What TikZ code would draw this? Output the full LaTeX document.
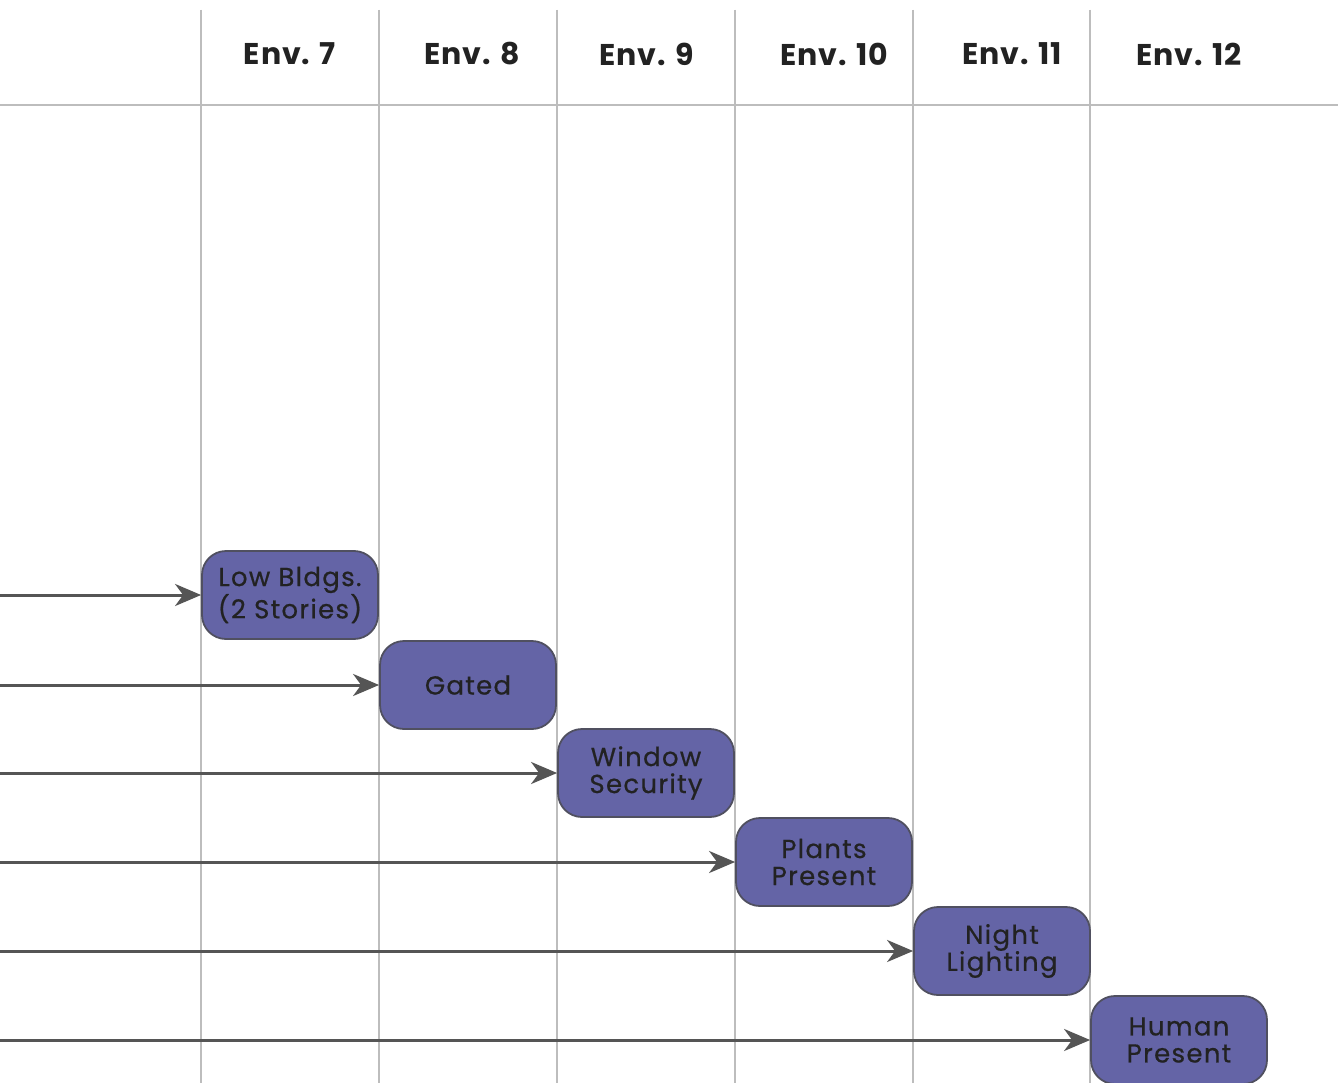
\documentclass[tikz,border=0pt]{standalone}
\usepackage{fontspec}
\setmainfont{Poppins}
\newfontfamily\boxfont{Poppins}[LetterSpace=5,FakeBold=0.6]
\newfontfamily\headfont{Poppins}[LetterSpace=3]
\usetikzlibrary{arrows.meta}
\definecolor{gridc}{HTML}{BDBDBD}
\definecolor{boxfill}{HTML}{6464A6}
\definecolor{boxline}{HTML}{505060}
\definecolor{arrc}{HTML}{555555}
\definecolor{txtc}{HTML}{222222}
\begin{document}
\begin{tikzpicture}[x=1pt,y=-1pt,
  gridline/.style={draw=gridc,line width=2.6pt},
  header/.style={font=\headfont\fontsize{30}{31}\selectfont\bfseries,text=txtc,anchor=center},
  envbox/.style={draw=boxline,line width=1.8pt,fill=boxfill,rounded corners=24pt,
     minimum width=176pt,minimum height=88pt,align=center,text=txtc,inner sep=0pt,
     font=\boxfont\fontsize{26}{27}\selectfont},
  link/.style={draw=arrc,line width=3pt,-{Stealth[length=26pt,width=22pt,inset=8pt]}}]
\useasboundingbox (0,0) rectangle (1338,1083);
\fill[white] (0,0) rectangle (1338,1083);
% grid
\foreach \x/\n in {201/a,379/b,557/c,735/d,913/e,1090/f}{
  \coordinate (top\n) at (\x,10);
  \coordinate (bot\n) at (\x,1083);
  \draw[gridline] (top\n) -- (bot\n);
}
\coordinate (hl) at (0,105);
\coordinate (hr) at (1338,105);
\draw[gridline] (hl) -- (hr);
% headers
\node[header] (h7) at (290,54) {Env. 7};
\node[header] (h8) at (472,54) {Env. 8};
\node[header] (h9) at (647,54) {Env. 9};
\node[header] (h10) at (834,54) {Env. 10};
\node[header] (h11) at (1012,54) {Env. 11};
\node[header] (h12) at (1189,54) {Env. 12};
% boxes
\node[envbox] (b1) at (290,595) {Low Bldgs.\\(2 Stories)};
\node[envbox] (b2) at (468,685) {Gated};
\node[envbox] (b3) at (646,773) {Window\\Security};
\node[envbox] (b4) at (824,862) {Plants\\Present};
\node[envbox] (b5) at (1002,951) {Night\\Lighting};
\node[envbox] (b6) at (1179,1040) {Human\\Present};
% arrows
\foreach \i/\y in {1/595,2/685,3/773,4/862,5/951,6/1040}{
  \coordinate (s\i) at (0,\y);
  \draw[link] (s\i) -- (b\i.west);
}
\end{tikzpicture}
\end{document}
